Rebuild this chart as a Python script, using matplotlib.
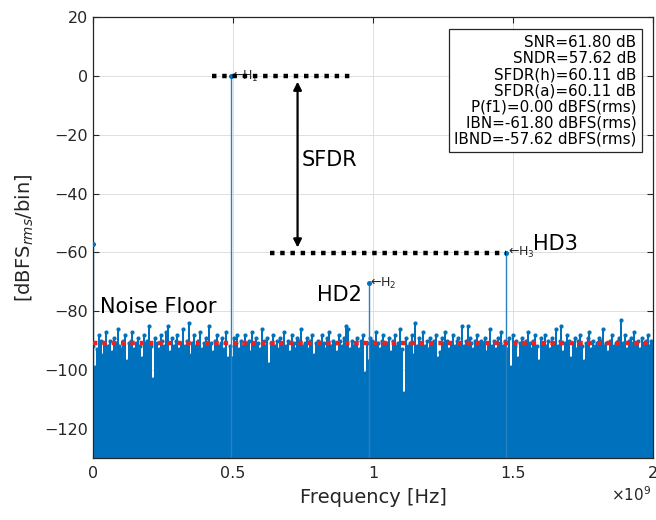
import numpy as np
import matplotlib
matplotlib.use('Agg')
import matplotlib.pyplot as plt
from matplotlib.ticker import FuncFormatter

plt.rcParams['font.family'] = ['DejaVu Sans']

# noise bins of the spectrum [dBFS], 0 .. 2 GHz
noise_db = [
    -92, -99, -93, -88, -90, -95, -91, -87, -92, -90, -94, -89, -91, -86, -92, -93, -90, -88, -97, -91,
    -90, -87, -93, -91, -89, -92, -96, -88, -91, -90, -85, -92, -103, -89, -91, -93, -88, -90, -92, -87,
    -85, -94, -89, -92, -90, -88, -93, -91, -86, -92, -90, -84, -95, -91, -88, -92, -90, -87, -93, -91,
    -89, -92, -85, -91, -94, -90, -88, -92, -91, -89, -93, -87, -96, -92, -96, -89, -91, -88, -93, -90,
    -92, -88, -91, -90, -94, -87, -92, -89, -91, -93, -86, -90, -92, -89, -98, -91, -88, -92, -90, -93,
    -89, -91, -87, -92, -90, -94, -88, -91, -93, -89, -90, -86, -92, -91, -89, -93, -90, -88, -95, -91,
    -90, -92, -88, -91, -93, -89, -87, -92, -90, -91, -94, -88, -90, -92, -89, -85, -86, -93, -90, -92,
    -91, -89, -93, -90, -88, -101, -91, -97, -89, -90, -92, -87, -91, -93, -90, -88, -92, -91, -89, -94,
    -90, -88, -92, -91, -86, -93, -108, -89, -92, -91, -88, -95, -84, -92, -89, -91, -87, -92, -90, -93,
    -89, -91, -90, -88, -96, -94, -89, -91, -87, -90, -93, -91, -88, -92, -90, -89, -91, -85, -92, -90,
    -85, -89, -91, -93, -90, -88, -92, -90, -91, -89, -94, -91, -86, -92, -90, -93, -89, -91, -87, -92,
    -90, -93, -89, -99, -88, -92, -90, -96, -91, -89, -92, -90, -87, -91, -93, -90, -88, -92, -97, -89,
    -91, -88, -92, -90, -93, -89, -91, -86, -92, -90, -85, -94, -91, -88, -90, -96, -91, -89, -93, -90,
    -88, -92, -97, -91, -89, -87, -93, -90, -92, -91, -89, -90, -86, -92, -91, -94, -90, -88, -92, -91,
    -90, -89, -83, -91, -88, -93, -90, -89, -91, -87, -92, -90, -93, -89, -91, -90, -88, -92, -90, -91,
]
noise_freq = np.linspace(0, 2e9, len(noise_db))

# DC, fundamental H1, harmonics H2 and H3
tone_freq = [0.0, 0.4917e9, 0.9834e9, 1.4751e9]
tone_db = [-57.3, 0.0, -70.6, -60.11]
tone_names = ['', 'H$_1$', 'H$_2$', 'H$_3$']

noise_floor = -91.0
sfdr_x = 0.73e9
fund_line = [0.425e9, 0.918e9]
spur_line = [0.632e9, 1.4751e9]

stats = ['SNR=61.80 dB', 'SNDR=57.62 dB', 'SFDR(h)=60.11 dB', 'SFDR(a)=60.11 dB',
         'P(f1)=0.00 dBFS(rms)', 'IBN=-61.80 dBFS(rms)', 'IBND=-57.62 dBFS(rms)']

blue = '#0072BD'
dark = '#262626'

fig = plt.figure(figsize=(6.56, 5.2), dpi=100)
ax = fig.add_axes([0.142, 0.119, 0.8537, 0.848])

# spectrum stems
ax.vlines(noise_freq, -140, noise_db, color=blue, lw=1.45, zorder=2)
ax.plot(noise_freq, noise_db, 'o', ms=2.0, color=blue, zorder=2)
ax.vlines(tone_freq, -140, tone_db, color='#2a7fbf', lw=1.0, zorder=2)
ax.plot(tone_freq, tone_db, 'o', ms=2.6, color=blue, zorder=3)

# harmonic labels
for f, d, name in zip(tone_freq, tone_db, tone_names):
    if name:
        ax.text(f + 0.005e9, d, '\u2190' + name, fontsize=9, color=dark, va='center', ha='left', zorder=4)

# noise floor and SFDR markings
ax.plot([0, 2e9], [noise_floor, noise_floor], color='#f02020', lw=3.2,
        linestyle=(0, (1.0, 1.1)), zorder=5)
ax.plot(fund_line, [0, 0], color='black', lw=3.2, linestyle=(0, (1.0, 1.3)), zorder=5)
ax.plot(spur_line, [tone_db[3], tone_db[3]], color='black', lw=3.2, linestyle=(0, (1.0, 1.3)), zorder=5)
ax.annotate('', xy=(sfdr_x, -1), xytext=(sfdr_x, tone_db[3] + 0.8),
            arrowprops=dict(arrowstyle='<|-|>', color='black', lw=1.6, mutation_scale=12), zorder=5)

ax.text(0.745e9, -28.6, 'SFDR', fontsize=15, va='center', ha='left')
ax.text(1.571e9, -57.1, 'HD3', fontsize=15, va='center', ha='left')
ax.text(0.961e9, -74.5, 'HD2', fontsize=15, va='center', ha='right')
ax.text(0.025e9, -78.6, 'Noise Floor', fontsize=15, va='center', ha='left')

ax.text(0.97, 0.96, '\n'.join(stats), transform=ax.transAxes, fontsize=10.9,
        ha='right', va='top', linespacing=1.1, zorder=6,
        bbox=dict(boxstyle='square,pad=0.35', fc='white', ec=dark, lw=0.9))

ax.set_xlim(0, 2e9)
ax.set_ylim(-130, 20)
ax.set_xticks([0, 0.5e9, 1e9, 1.5e9, 2e9])
ax.set_yticks(np.arange(-120, 21, 20))
ax.xaxis.set_major_formatter(FuncFormatter(lambda v, p: '%g' % (v / 1e9)))
ax.grid(True, color='#dedede', lw=0.7, zorder=0)
ax.set_axisbelow(True)
ax.tick_params(direction='in', length=4, colors=dark, labelsize=11.5, top=True, right=True,
               labeltop=False, labelright=False)
ax.tick_params(axis='x', pad=6)
for s in ax.spines.values():
    s.set_color(dark)
    s.set_linewidth(0.9)

ax.set_xlabel('Frequency [Hz]', fontsize=14, color=dark, labelpad=5)
ax.set_ylabel('[dBFS$_{rms}$/bin]', fontsize=14, color=dark, labelpad=6)
fig.text(0.932, 0.036, '$\\times$10$^9$', fontsize=11, color=dark)

fig.savefig('out.png', dpi=100)
